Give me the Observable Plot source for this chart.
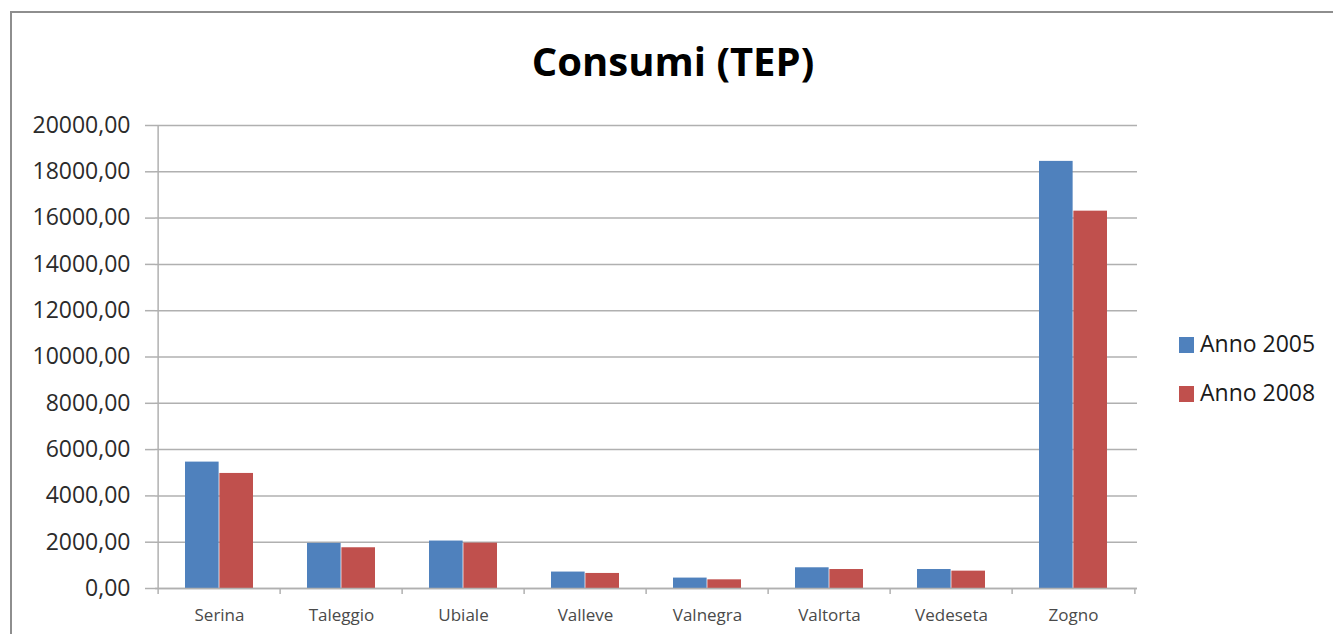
<!DOCTYPE html>
<html><head><meta charset="utf-8">
<script src="https://cdn.jsdelivr.net/npm/d3@7"></script>
<script src="https://cdn.jsdelivr.net/npm/@observablehq/plot@0.6"></script>
<style>
body{margin:0;background:#fff;font-family:"Open Sans",sans-serif;}
#wrap{position:relative;width:1333px;height:634px;overflow:hidden;background:#fff;}
#border{position:absolute;left:10px;top:11px;width:1400px;height:700px;border-top:2px solid #8e8e8e;border-left:2px solid #8e8e8e;}
#chart{position:absolute;left:0;top:0;}
#title{position:absolute;left:0;width:1346px;top:41px;text-align:center;font-weight:700;font-size:40px;line-height:40px;color:#000;}
.leg{position:absolute;left:1179px;font-size:23px;line-height:23px;color:#1a1a1a;white-space:nowrap;}
.sw{position:absolute;left:0;width:15px;height:16px;}
.lt{position:absolute;left:21px;top:0;}
</style></head>
<body>
<div id="wrap">
  <div id="border"></div>
  <div id="chart"></div>
  <div id="title"></div>
  <div id="legend"></div>
</div>
<script>
const title = "Consumi (TEP)";
const categories = ["Serina","Taleggio","Ubiale","Valleve","Valnegra","Valtorta","Vedeseta","Zogno"];
const series = ["Anno 2005","Anno 2008"];
const values2005 = [5460,1950,2050,710,450,895,820,18450];
const values2008 = [4970,1760,1960,650,375,820,750,16300];
const yTicks = [0,2000,4000,6000,8000,10000,12000,14000,16000,18000,20000];
const colors = ["#4F81BD","#C0504D"];

const W = 1333, H = 634, mL = 155, mR = 196, mT = 125, mB = 46;
const pInner = 0.44, pOuter = 0.22;
const step = (W - mL - mR) / categories.length;
const half = step * (1 - pInner) / 2;

const rows = categories.flatMap((c, i) => [
  {cat: c, series: series[0], value: values2005[i]},
  {cat: c, series: series[1], value: values2008[i]}
]);

const grid = "#b0b0b0";
const fmt = d => d.toFixed(2).replace(".", ",");

const plot = Plot.plot({
  width: W, height: H,
  marginLeft: mL, marginRight: mR, marginTop: mT, marginBottom: mB,
  style: {fontFamily: "'Open Sans', sans-serif", background: "transparent"},
  x: {domain: categories, paddingInner: pInner, paddingOuter: pOuter, axis: null, label: null},
  y: {domain: [0, 20000], axis: null, label: null},
  color: {domain: series, range: colors},
  marks: [
    Plot.gridY(yTicks, {stroke: grid, strokeOpacity: 1, strokeWidth: 1.5}),
    Plot.axisY(yTicks, {label: null, tickSize: 10, tickPadding: 15, tickFormat: fmt, fontSize: 23, fill: "#2b2b2b", stroke: grid, strokeWidth: 1.5}),
    Plot.barY(rows.filter(d => d.series === series[0]), {x: "cat", y: "value", fill: "series", insetRight: half}),
    Plot.barY(rows.filter(d => d.series === series[1]), {x: "cat", y: "value", fill: "series", insetLeft: half}),
    Plot.ruleY([0], {stroke: grid, strokeWidth: 1.5}),
    Plot.ruleX([categories[0]], {y1: 0, y2: 20000, dx: -step / 2, stroke: grid, strokeWidth: 1.5}),
    Plot.axisX(categories, {label: null, tickSize: 6, tickFormat: () => "", dx: -step / 2, stroke: grid, strokeWidth: 1.5}),
    Plot.axisX([categories[categories.length - 1]], {label: null, tickSize: 6, tickFormat: () => "", dx: step / 2, stroke: grid, strokeWidth: 1.5}),
    Plot.axisX(categories, {label: null, tickSize: 0, tickPadding: 20, fontSize: 17, fill: "#4a4a4a"})
  ]
});
document.getElementById("chart").appendChild(plot);
document.getElementById("title").textContent = title;

const leg = document.getElementById("legend");
const legTops = [332, 381];
series.forEach((s, i) => {
  const item = document.createElement("div");
  item.className = "leg";
  item.style.top = legTops[i] + "px";
  const sw = document.createElement("div");
  sw.className = "sw";
  sw.style.top = "5px";
  sw.style.background = colors[i];
  const t = document.createElement("div");
  t.className = "lt";
  t.textContent = s;
  item.appendChild(sw); item.appendChild(t);
  leg.appendChild(item);
});
</script>
</body></html>
